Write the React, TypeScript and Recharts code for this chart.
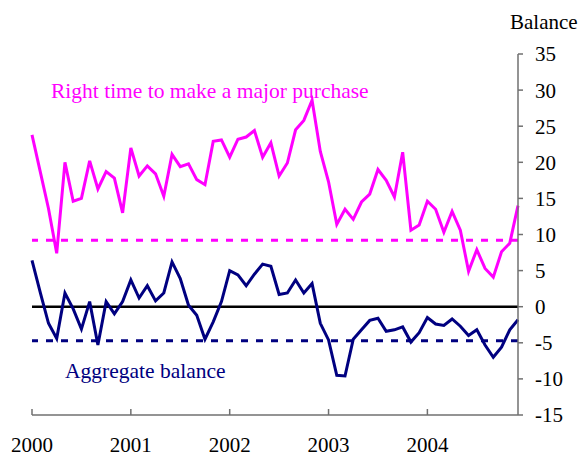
import React from 'react';
import { LineChart, Line, XAxis, YAxis, ReferenceLine } from 'recharts';

const years = ['2000', '2001', '2002', '2003', '2004'];
const months = years.flatMap((y) => Array.from({ length: 12 }, (_, m) => `${y}-${String(m + 1).padStart(2, '0')}`));
const yearTicks = years.map((y) => `${y}-01`);

const majorPurchase = [
  23.8, 18.7, 13.6, 7.4, 20.0, 14.6, 15.0, 20.2, 16.3, 18.7, 17.8, 13.0,
  22.0, 18.1, 19.5, 18.4, 15.3, 21.1, 19.4, 19.8, 17.6, 16.9, 22.9, 23.1,
  20.7, 23.2, 23.5, 24.4, 20.7, 22.7, 18.1, 19.9, 24.5, 25.8, 28.6, 21.5,
  17.3, 11.4, 13.5, 12.1, 14.5, 15.6, 19.0, 17.5, 15.2, 21.4, 10.6, 11.3,
  14.6, 13.5, 10.3, 13.2, 10.6, 4.9, 7.9, 5.3, 4.1, 7.6, 8.8, 14.0,
];

const aggregateBalance = [
  6.4, 2.0, -2.3, -4.4, 1.9, -0.3, -3.1, 0.7, -5.3, 0.7, -1.0, 0.7,
  3.7, 1.2, 2.9, 0.8, 1.9, 6.2, 3.9, 0.2, -1.2, -4.5, -2.1, 0.7,
  5.0, 4.4, 2.9, 4.5, 5.9, 5.6, 1.7, 1.9, 3.7, 1.9, 3.2, -2.3,
  -4.6, -9.5, -9.6, -4.5, -3.2, -1.9, -1.6, -3.4, -3.2, -2.8, -4.9, -3.6,
  -1.5, -2.4, -2.6, -1.7, -2.7, -4.0, -3.2, -5.3, -7.0, -5.6, -3.2, -1.8,
];

const purchaseAverage = 9.2;
const aggregateAverage = -4.7;
const balanceTicks = [-15, -10, -5, 0, 5, 10, 15, 20, 25, 30, 35];

const data = months.map((month, i) => ({
  month,
  purchase: majorPurchase[i],
  aggregate: aggregateBalance[i],
}));

const FONT = '"Liberation Serif", "Times New Roman", serif';
const MAGENTA = '#ff00ff';
const NAVY = '#000080';
const AXIS = '#707070';

function YearTick(props: any) {
  const { x, y, payload } = props;
  return (
    <g>
      <line x1={x} x2={x} y1={y - 6} y2={y} stroke={AXIS} strokeWidth={1.5} />
      <text x={x} y={y + 37} textAnchor="middle" fontFamily={FONT} fontSize={21} fill="#000">
        {String(payload.value).slice(0, 4)}
      </text>
    </g>
  );
}

export default function App() {
  return (
    <div style={{ position: 'relative', width: 580, height: 457, background: '#fff' }}>
      <style>{'body{margin:0}'}</style>
      <LineChart width={580} height={457} data={data} margin={{ top: 54, right: 0, left: 32, bottom: 0 }}>
        <XAxis
          dataKey="month"
          ticks={yearTicks}
          interval={0}
          height={42}
          tickSize={0}
          tickMargin={0}
          tickLine={false}
          axisLine={{ stroke: AXIS, strokeWidth: 1.5 }}
          tick={<YearTick />}
        />
        <YAxis
          orientation="right"
          width={62}
          domain={[-15, 35]}
          ticks={balanceTicks}
          interval={0}
          tickSize={5}
          tickMargin={12}
          axisLine={{ stroke: AXIS, strokeWidth: 1.5 }}
          tickLine={{ stroke: AXIS, strokeWidth: 1.5 }}
          tick={{ fill: '#000', fontSize: 21, fontFamily: FONT }}
        />
        <ReferenceLine y={0} stroke="#000" strokeWidth={2.5} />
        <ReferenceLine y={purchaseAverage} stroke={MAGENTA} strokeWidth={3} strokeDasharray="7 8" />
        <ReferenceLine y={aggregateAverage} stroke={NAVY} strokeWidth={3} strokeDasharray="7 8" />
        <Line dataKey="purchase" stroke={MAGENTA} strokeWidth={3} dot={false} isAnimationActive={false} />
        <Line dataKey="aggregate" stroke={NAVY} strokeWidth={3} dot={false} isAnimationActive={false} />
      </LineChart>
      <svg width={580} height={457} style={{ position: 'absolute', left: 0, top: 0, pointerEvents: 'none' }}>
        <text x={510} y={29} fontFamily={FONT} fontSize={21} fill="#000">Balance</text>
        <text x={51} y={98} fontFamily={FONT} fontSize={21.5} fill={MAGENTA}>Right time to make a major purchase</text>
        <text x={65} y={378} fontFamily={FONT} fontSize={21.5} fill={NAVY}>Aggregate balance</text>
      </svg>
    </div>
  );
}
